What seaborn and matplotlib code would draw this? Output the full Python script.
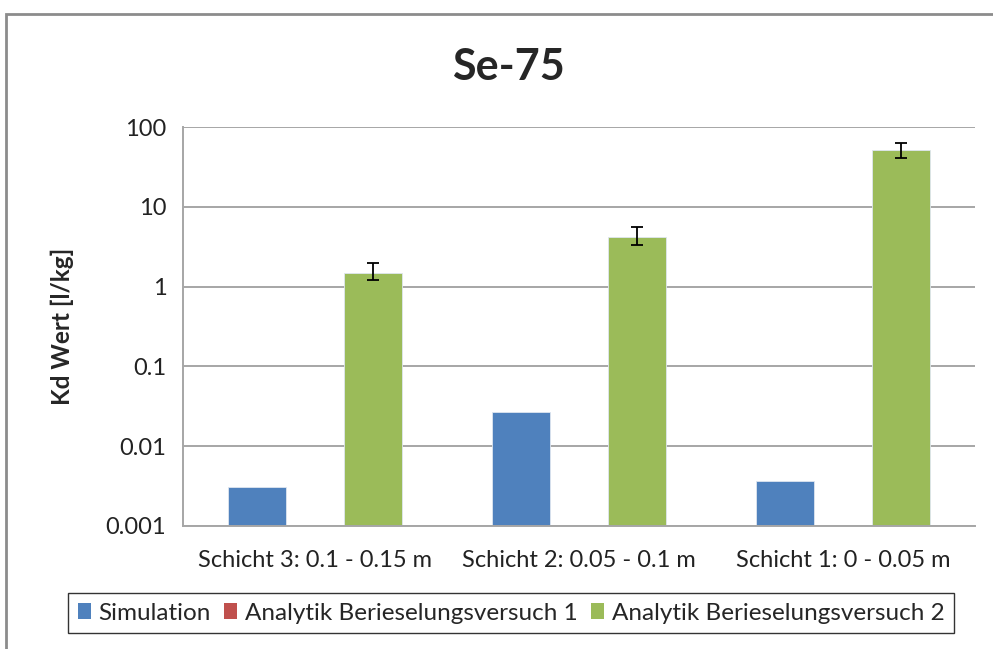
import numpy as np
import pandas as pd
import seaborn as sns
import matplotlib.pyplot as plt
from matplotlib.patches import Patch, Rectangle
from matplotlib.ticker import FixedLocator, NullLocator, FixedFormatter

# values
schichten = ["Schicht 3: 0.1 - 0.15 m", "Schicht 2: 0.05 - 0.1 m", "Schicht 1: 0 - 0.05 m"]
serien = ["Simulation", "Analytik Berieselungsversuch 1", "Analytik Berieselungsversuch 2"]
simulation = [0.00305, 0.027, 0.0037]
versuch1 = [np.nan, np.nan, np.nan]  # no values in the chart
versuch2 = [1.48, 4.18, 51.6]
versuch2_low = [1.22, 3.28, 40.6]
versuch2_high = [1.98, 5.57, 63.0]
farben = ["#4F81BD", "#C0504D", "#9BBB59"]

df = pd.DataFrame({
    "schicht": schichten * 3,
    "serie": [serien[0]] * 3 + [serien[1]] * 3 + [serien[2]] * 3,
    "kd": simulation + versuch1 + versuch2,
})

sns.set_style("white")
plt.rcParams['font.family'] = ['Lato', 'DejaVu Sans']

fig = plt.figure(figsize=(9.93, 6.49), dpi=100)
ax = fig.add_axes([183 / 993, 1 - 526 / 649, 792 / 993, 399 / 649])

sns.barplot(data=df, x="schicht", y="kd", hue="serie", hue_order=serien,
            order=schichten, palette=farben, width=0.66, errorbar=None,
            legend=False, saturation=1, ax=ax, edgecolor="#dfe6f0", linewidth=0.6)
ax.set_yscale("log")
ax.set_ylim(0.001, 100)

# error bars on the green series
gruen = ax.containers[-1]
xs = [b.get_x() + b.get_width() / 2 for b in gruen]
v = np.array(versuch2)
err = [v - np.array(versuch2_low), np.array(versuch2_high) - v]
ax.errorbar(xs, v, yerr=err, fmt="none", ecolor="black", elinewidth=1.3,
            capsize=4.5, capthick=1.3, zorder=5)

# y axis like excel
ax.yaxis.set_major_locator(FixedLocator([0.001, 0.01, 0.1, 1, 10, 100]))
ax.yaxis.set_major_formatter(FixedFormatter(["0.001", "0.01", "0.1", "1", "10", "100"]))
ax.yaxis.set_minor_locator(NullLocator())
ax.grid(axis="y", color="#a6a6a6", linewidth=1.4)
ax.set_axisbelow(True)
ax.tick_params(axis="y", which="major", length=7, width=1.2, color="#a6a6a6",
               labelsize=17, pad=5, labelcolor="#222222")

# category separator ticks on x axis
ax.set_xlim(-0.5, 2.5)
ax.set_xticks([-0.5, 0.5, 1.5, 2.5], minor=True)
ax.tick_params(axis="x", which="minor", length=8, width=1.2, color="#a6a6a6")
ax.tick_params(axis="x", which="major", length=0, labelsize=17, pad=25,
               labelcolor="#222222")
for lbl in ax.get_xticklabels():
    lbl.set_va("center")

for s in ["top", "right"]:
    ax.spines[s].set_visible(False)
for s in ["left", "bottom"]:
    ax.spines[s].set_color("#a6a6a6")
    ax.spines[s].set_linewidth(1.4)

ax.set_xlabel("")
ax.set_ylabel("Kd Wert [l/kg]", fontsize=17.5, fontweight="bold")
ax.yaxis.set_label_coords(-(183 - 62) / 792, 0.5)
ax.yaxis.label.set_va("center")

fig.text(508 / 993, 1 - 67 / 649, "Se-75", ha="center", va="center",
         fontsize=31, fontweight="bold")

handles = [Patch(facecolor=c, edgecolor="none") for c in farben]
leg = fig.legend(handles, serien, loc="center", bbox_to_anchor=(511 / 993, 1 - 613 / 649),
                 ncol=3, fontsize=17.5, frameon=True, fancybox=False,
                 handlelength=0.55, handleheight=0.6, handletextpad=0.3,
                 columnspacing=0.55, borderpad=0.4)
leg.get_frame().set_edgecolor("black")
leg.get_frame().set_linewidth(1.0)

# outer chart frame
fig.patches.append(Rectangle((6 / 993, -0.2), 2, 1 - 14 / 649 + 0.2,
                             transform=fig.transFigure, fill=False,
                             edgecolor="#8c8c8c", linewidth=2))

fig.savefig("out.png", dpi=100)
